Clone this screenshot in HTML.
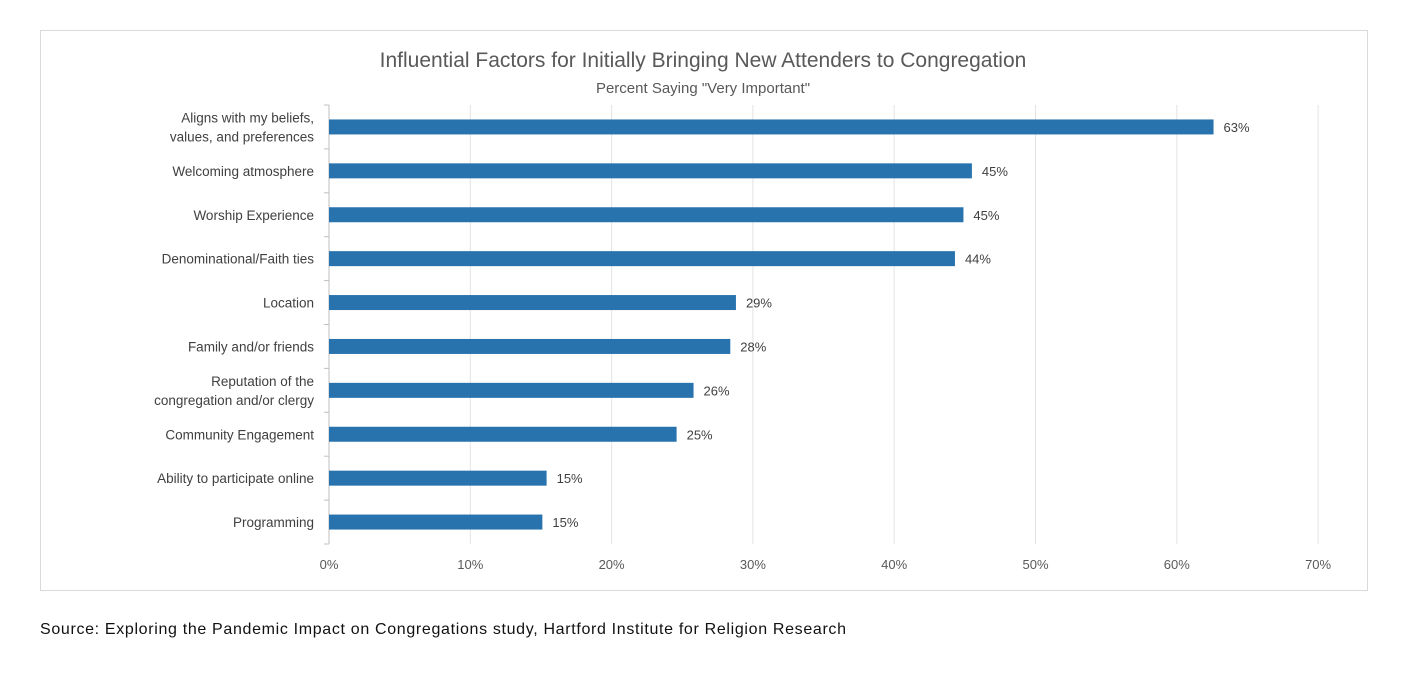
<!DOCTYPE html>
<html><head><meta charset="utf-8"><style>
body{margin:0;background:#fff;width:1414px;height:677px;overflow:hidden;font-family:"Liberation Sans",sans-serif}
</style></head><body>
<svg width="1414" height="677">
<rect x="40.5" y="30.5" width="1327" height="560" fill="#fff" stroke="#d9d9d9"/>
<text x="703" y="67" text-anchor="middle" font-size="21" fill="#595959">Influential Factors for Initially Bringing New Attenders to Congregation</text>
<text x="703" y="93" text-anchor="middle" font-size="15" fill="#595959">Percent Saying "Very Important"</text>
<g id="grid"></g><g id="bars"></g>
<text x="40" y="634" font-size="16" fill="#111" textLength="806">Source: Exploring the Pandemic Impact on Congregations study, Hartford Institute for Religion Research</text>
</svg>
<script>
const categories=[["Aligns with my beliefs,","values, and preferences"],["Welcoming atmosphere"],["Worship Experience"],["Denominational/Faith ties"],["Location"],["Family and/or friends"],["Reputation of the","congregation and/or clergy"],["Community Engagement"],["Ability to participate online"],["Programming"]];
const values=[62.6,45.5,44.9,44.3,28.8,28.4,25.8,24.6,15.4,15.1];
const labels=["63%","45%","45%","44%","29%","28%","26%","25%","15%","15%"];
const ticks=[0,10,20,30,40,50,60,70];
const NS="http://www.w3.org/2000/svg";
const xs=v=>329+v*141.3/10;
const yTop=105,step=43.9;
const ys=i=>yTop+step*i+step/2;
function mk(t,a,p){const e=document.createElementNS(NS,t);for(const k in a)e.setAttribute(k,a[k]);p.appendChild(e);return e;}
const g=document.getElementById('grid'),b=document.getElementById('bars');
ticks.forEach(t=>{
 const l=mk('line',{x1:xs(t),x2:xs(t),y1:yTop,y2:yTop+step*10,stroke:t===0?'#bfbfbf':'#e3e3e3','stroke-width':1},g);
 
 
 const tx=mk('text',{x:xs(t),y:569,'text-anchor':'middle','font-size':13,fill:'#595959'},g);
 tx.textContent=t+'%';
 
 
});
for(let i=0;i<=10;i++){const tk=mk('line',{x1:324,x2:329,y1:yTop+step*i,y2:yTop+step*i,stroke:'#bfbfbf'},g);
 
 }
categories.forEach((c,i)=>{
 const r=mk('rect',{x:xs(0),y:ys(i)-7.5,width:xs(values[i])-xs(0),height:15,fill:'#2872ad'},b);
 
 
 const v=mk('text',{x:xs(values[i])+10,y:ys(i)+5,'font-size':13,fill:'#404040'},b);
 v.textContent=labels[i];
 
 
 c.forEach((ln,j)=>{
  const t=mk('text',{x:314,y:ys(i)+5+(j-(c.length-1)/2)*19,'text-anchor':'end','font-size':13.5,fill:'#404040'},b);
  t.textContent=ln;
  
  
 });
});
</script>
</body></html>
